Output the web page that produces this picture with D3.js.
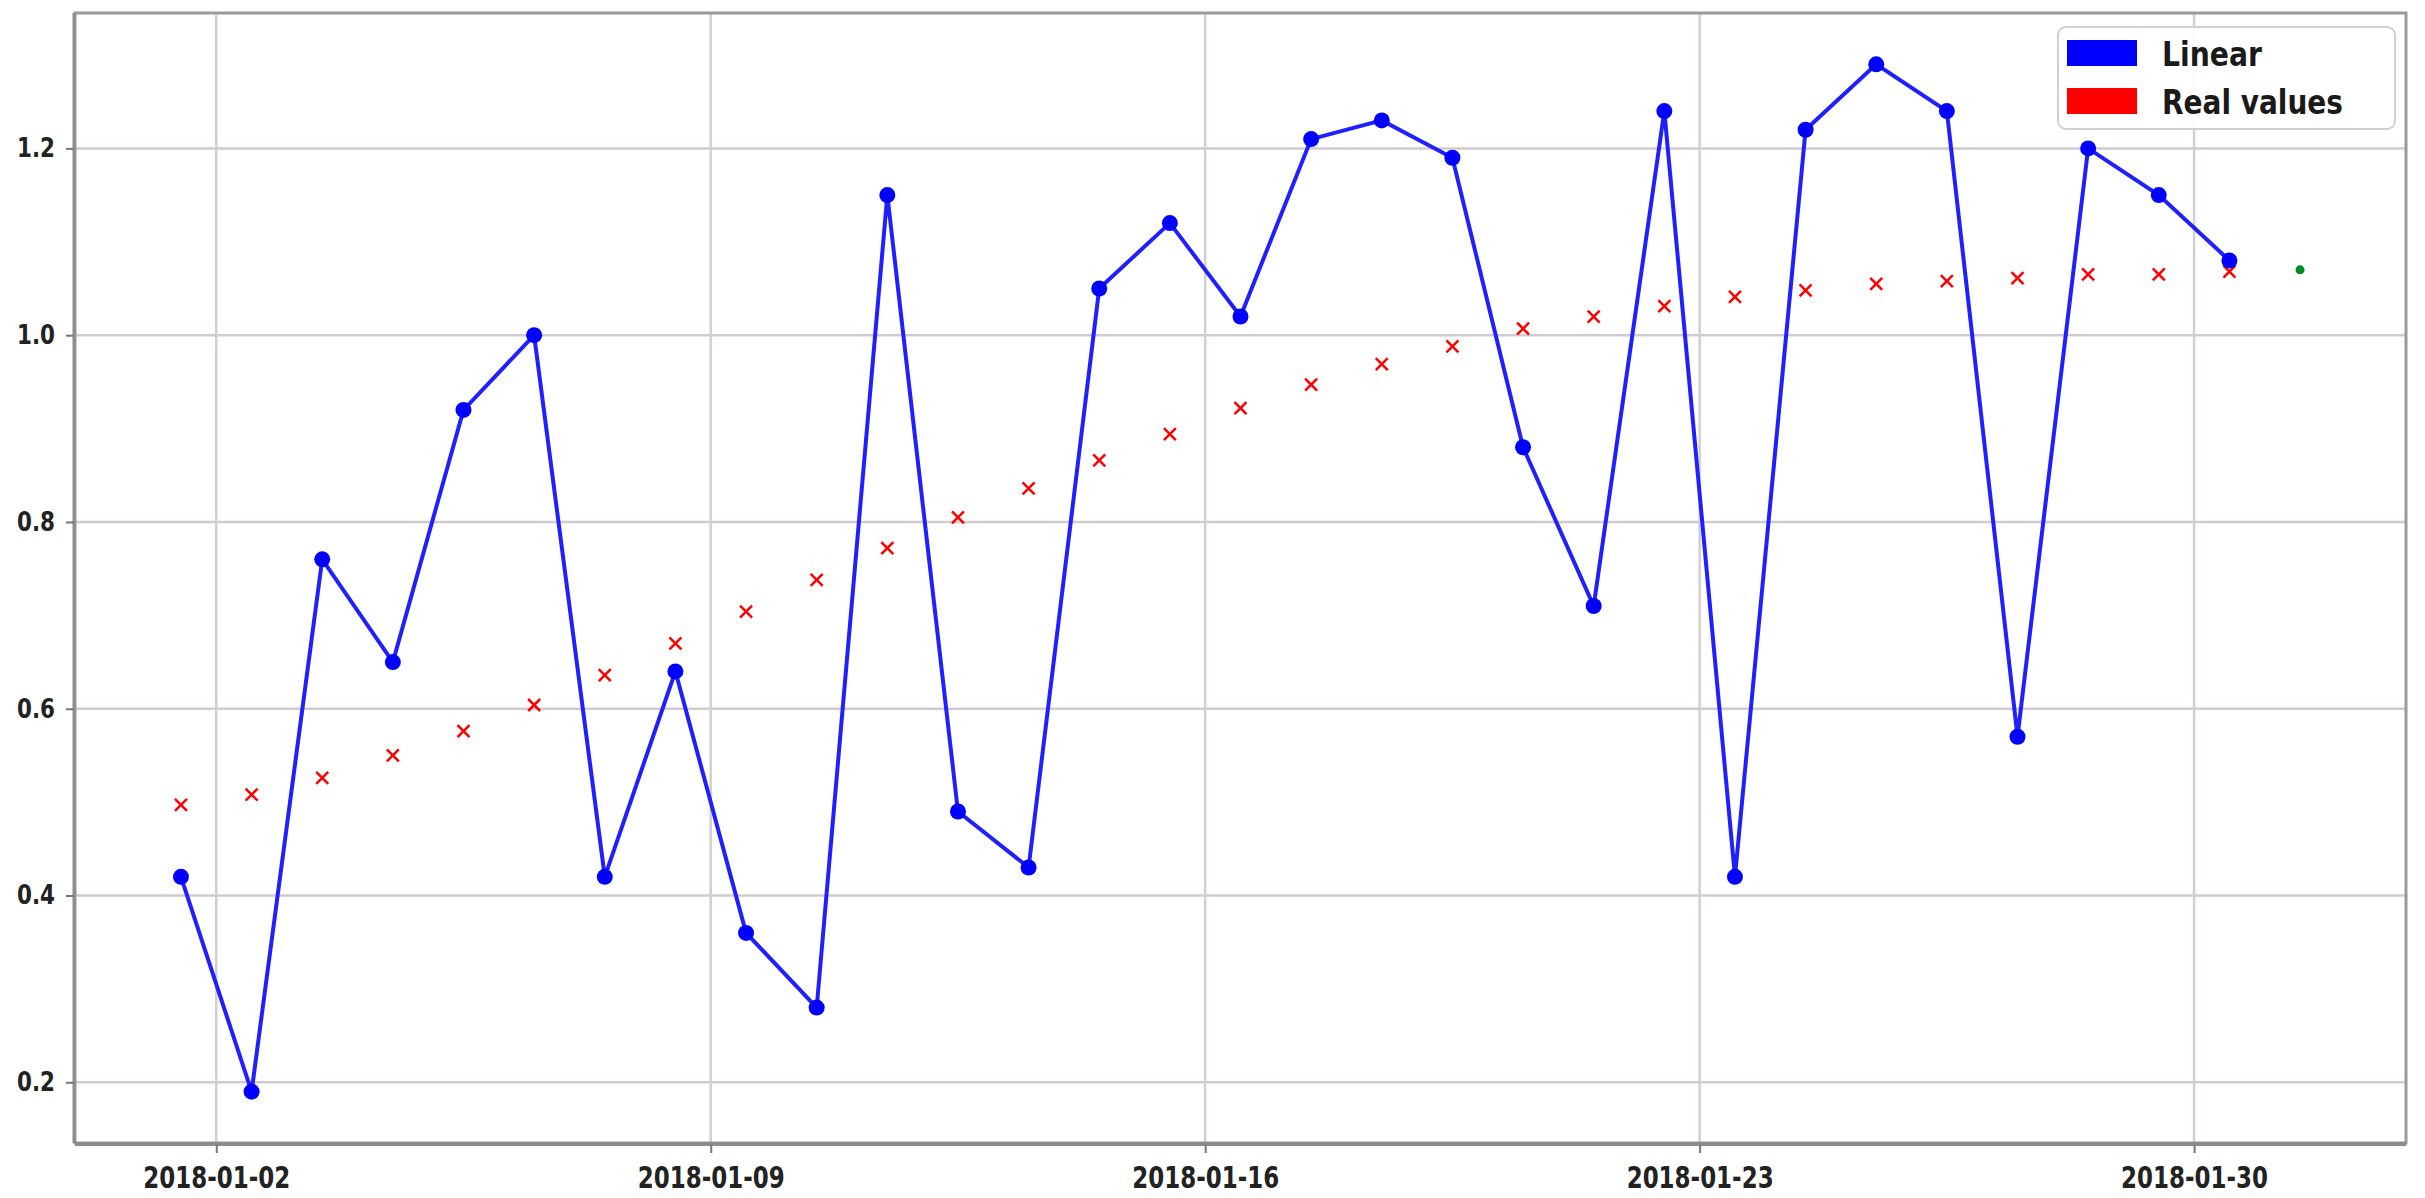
<!DOCTYPE html>
<html>
<head>
<meta charset="utf-8">
<script src="https://cdn.jsdelivr.net/npm/d3@7"></script>
<style>
  html, body { margin: 0; padding: 0; background: #fff; }
  svg { display: block; }
</style>
</head>
<body>
<svg id="chart" width="2425" height="1198"></svg>
<script>
// ---- data ----
const dates = [
  "2018-01-01T12:00","2018-01-02T12:00","2018-01-03T12:00","2018-01-04T12:00","2018-01-05T12:00",
  "2018-01-06T12:00","2018-01-07T12:00","2018-01-08T12:00","2018-01-09T12:00","2018-01-10T12:00",
  "2018-01-11T12:00","2018-01-12T12:00","2018-01-13T12:00","2018-01-14T12:00","2018-01-15T12:00",
  "2018-01-16T12:00","2018-01-17T12:00","2018-01-18T12:00","2018-01-19T12:00","2018-01-20T12:00",
  "2018-01-21T12:00","2018-01-22T12:00","2018-01-23T12:00","2018-01-24T12:00","2018-01-25T12:00",
  "2018-01-26T12:00","2018-01-27T12:00","2018-01-28T12:00","2018-01-29T12:00","2018-01-30T12:00"
];
const linearValues = [
  0.42, 0.19, 0.76, 0.65, 0.92, 1.00, 0.42, 0.64, 0.36, 0.28,
  1.15, 0.49, 0.43, 1.05, 1.12, 1.02, 1.21, 1.23, 1.19, 0.88,
  0.71, 1.24, 0.42, 1.22, 1.29, 1.24, 0.57, 1.20, 1.15, 1.08
];
const realValues = [
  0.497, 0.508, 0.526, 0.550, 0.576, 0.604, 0.636, 0.670, 0.704, 0.738,
  0.772, 0.805, 0.836, 0.866, 0.894, 0.922, 0.947, 0.969, 0.988, 1.007,
  1.020, 1.031, 1.041, 1.048, 1.055, 1.058, 1.061, 1.065, 1.065, 1.068
];
const forecastDate = "2018-01-31T12:00";
const forecastValue = 1.07;
const xTickDates = ["2018-01-02","2018-01-09","2018-01-16","2018-01-23","2018-01-30"];
const yTicks = [0.2, 0.4, 0.6, 0.8, 1.0, 1.2];
const xDomain = ["2017-12-31T00:00","2018-02-02T00:00"];
const yDomain = [0.135, 1.345];
const legendItems = [
  {label: "Linear", color: "#0000ff"},
  {label: "Real values", color: "#ff0000"}
];

// ---- layout ----
const parse = s => new Date(s + (s.length <= 10 ? "T00:00" : "") + "Z");
const pL = 75, pR = 2406, pT = 13, pB = 1143;

const svg = d3.select("#chart");
const x = d3.scaleUtc().domain(xDomain.map(parse)).range([pL, pR]);
const y = d3.scaleLinear().domain(yDomain).range([pB, pT]);

// grid
const grid = svg.append("g");
grid.selectAll("line.hg").data(yTicks).join("line")
  .attr("x1", pL).attr("x2", pR)
  .attr("y1", d => y(d)).attr("y2", d => y(d))
  .attr("stroke", "#d3c9d0").attr("stroke-width", 2.5);
grid.selectAll("line.vg").data(xTickDates).join("line")
  .attr("x1", d => x(parse(d))).attr("x2", d => x(parse(d)))
  .attr("y1", pT).attr("y2", pB)
  .attr("stroke", "#d2ced2").attr("stroke-width", 2.5);

// frame
svg.append("rect")
  .attr("x", pL).attr("y", pT)
  .attr("width", pR - pL).attr("height", pB - pT)
  .attr("fill", "none").attr("stroke", "#9a9a9a").attr("stroke-width", 3);
svg.append("line").attr("x1", pL).attr("x2", pR).attr("y1", pB + 1).attr("y2", pB + 1)
  .attr("stroke", "#8c8c8c").attr("stroke-width", 4);
svg.append("line").attr("x1", pL - 1).attr("x2", pL - 1).attr("y1", pT).attr("y2", pB)
  .attr("stroke", "#8c8c8c").attr("stroke-width", 3);

// axes
const xAxis = d3.axisBottom(x)
  .tickValues(xTickDates.map(parse))
  .tickFormat(d3.utcFormat("%Y-%m-%d"))
  .tickSize(8).tickPadding(8);
const gx = svg.append("g").attr("transform", `translate(0,${pB + 2})`).call(xAxis);
gx.select(".domain").remove();
gx.selectAll(".tick line").attr("stroke", "#777").attr("stroke-width", 2);
gx.selectAll(".tick text")
  .attr("font-family", "DejaVu Sans").attr("font-weight", "bold")
  .attr("font-size", 30).attr("fill", "#222")
  .attr("dy", "0.9em")
  .attr("textLength", 147).attr("lengthAdjust", "spacingAndGlyphs");

const yAxis = d3.axisLeft(y).tickValues(yTicks).tickFormat(d3.format(".1f"))
  .tickSize(8).tickPadding(11);
const gy = svg.append("g").attr("transform", `translate(${pL - 1},0)`).call(yAxis);
gy.select(".domain").remove();
gy.selectAll(".tick line").attr("stroke", "#777").attr("stroke-width", 2);
gy.selectAll(".tick text")
  .attr("font-family", "DejaVu Sans").attr("font-weight", "bold")
  .attr("font-size", 26).attr("fill", "#222")
  .attr("textLength", 38).attr("lengthAdjust", "spacingAndGlyphs");

// real values (x markers)
const xs = 6;
const realG = svg.append("g");
realG.selectAll("path").data(dates.map((d, i) => [parse(d), realValues[i]])).join("path")
  .attr("d", d => {
    const cx = x(d[0]), cy = y(d[1]);
    return `M${cx - xs},${cy - xs}L${cx + xs},${cy + xs}M${cx - xs},${cy + xs}L${cx + xs},${cy - xs}`;
  })
  .attr("stroke", "#ff0000").attr("stroke-width", 2.5).attr("fill", "none");

// linear line
const pts = dates.map((d, i) => [parse(d), linearValues[i]]);
svg.append("path")
  .datum(pts)
  .attr("d", d3.line().x(d => x(d[0])).y(d => y(d[1])))
  .attr("fill", "none").attr("stroke", "#2020ff").attr("stroke-width", 4);
svg.append("g").selectAll("circle").data(pts).join("circle")
  .attr("cx", d => x(d[0])).attr("cy", d => y(d[1])).attr("r", 8)
  .attr("fill", "#0000ff");

// forecast point
svg.append("circle")
  .attr("cx", x(parse(forecastDate))).attr("cy", y(forecastValue)).attr("r", 4.5)
  .attr("fill", "#008a20");

// legend
const lg = svg.append("g");
lg.append("rect").attr("x", 2058).attr("y", 27).attr("width", 337).attr("height", 102)
  .attr("rx", 8).attr("fill", "#fff").attr("fill-opacity", 0.9)
  .attr("stroke", "#d0d0d0").attr("stroke-width", 2);
const li = lg.selectAll("g.item").data(legendItems).join("g")
  .attr("transform", (d, i) => `translate(0,${i * 48})`);
li.append("rect").attr("x", 2067).attr("y", 40).attr("width", 70).attr("height", 26)
  .attr("fill", d => d.color);
li.append("text").attr("x", 2162).attr("y", 66)
  .attr("font-family", "DejaVu Sans").attr("font-weight", "bold").attr("font-size", 33)
  .attr("fill", "#1a1a1a")
  .text(d => d.label)
  .each(function(d) { d3.select(this).attr("textLength", d.label === "Linear" ? 100 : 181).attr("lengthAdjust", "spacingAndGlyphs"); });
</script>
</body>
</html>
